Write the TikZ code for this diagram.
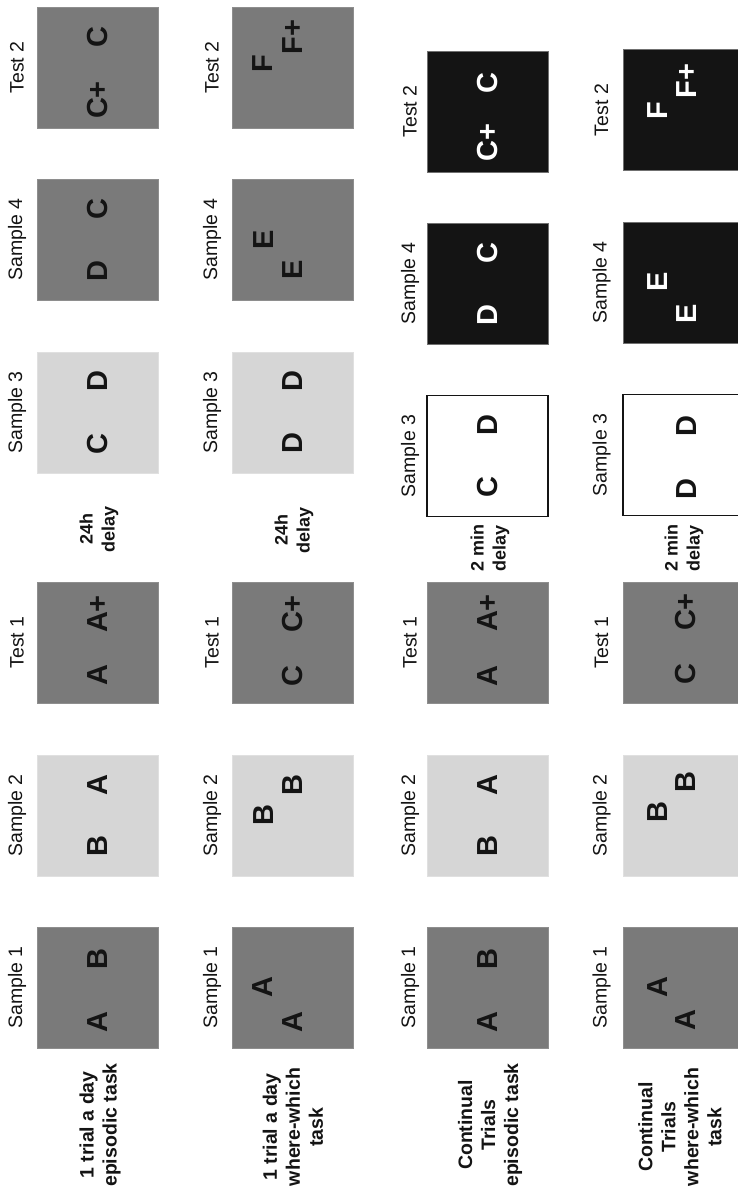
\documentclass[tikz,border=0pt]{standalone}
\usepackage{fontspec}
\setmainfont{Liberation Sans}
\definecolor{dg}{HTML}{7A7A7A}
\definecolor{dgedge}{HTML}{8E8E8E}
\definecolor{lg}{HTML}{D6D6D6}
\definecolor{lgedge}{HTML}{E0E0E0}
\definecolor{bk}{HTML}{141414}
\definecolor{bkedge}{HTML}{707070}
\definecolor{ink}{HTML}{141414}
\begin{document}
\begin{tikzpicture}[x=1pt,y=-1pt,
 panel/.style={minimum width=121pt,minimum height=121pt,inner sep=0pt,outer sep=0pt},
 dgbox/.style={panel,fill=dg,draw=dgedge,line width=0.8pt},
 lgbox/.style={panel,fill=lg,draw=lgedge,line width=0.8pt},
 bkbox/.style={panel,fill=bk,draw=bkedge,line width=1pt},
 wbox/.style={panel,fill=white,draw=ink,line width=1.6pt},
 obj/.style={rotate=90,inner sep=0pt,font=\fontsize{29}{29}\selectfont\bfseries,text=ink},
 wobj/.style={obj,text=white},
 steplabel/.style={rotate=90,inner sep=0pt,font=\fontsize{19.5}{23}\selectfont,text=ink},
 tasklabel/.style={rotate=90,inner sep=0pt,align=center,font=\fontsize{19.5}{23}\selectfont\bfseries,text=ink},
 delaylabel/.style={rotate=90,inner sep=0pt,font=\fontsize{18}{22}\selectfont\bfseries,text=ink},
]
\useasboundingbox (0,0) rectangle (738,1191);
\clip (0,0) rectangle (738,1191);

% ---------- Column 1: 1 trial a day episodic ----------
\node[dgbox] (b1t2) at (97.5,67.5) {};
\node[dgbox] (b1s4) at (97.5,239.5) {};
\node[lgbox] (b1s3) at (97.5,412.5) {};
\node[dgbox] (b1t1) at (97.5,642.5) {};
\node[lgbox] (b1s2) at (97.5,815.5) {};
\node[dgbox] (b1s1) at (97.5,987.5) {};
\node[steplabel] (t1t2) at (17,67.5) {Test 2};
\node[steplabel] (t1s4) at (17,239.5) {Sample 4};
\node[steplabel] (t1s3) at (17,412.5) {Sample 3};
\node[steplabel] (t1t1) at (17,642.5) {Test 1};
\node[steplabel] (t1s2) at (17,815.5) {Sample 2};
\node[steplabel] (t1s1) at (17,987.5) {Sample 1};
\node[obj] (o1s1a) at (97.5,1022) {A};
\node[obj] (o1s1b) at (97.5,959) {B};
\node[obj] (o1s2a) at (97.5,846) {B};
\node[obj] (o1s2b) at (97.5,785) {A};
\node[obj] (o1t1a) at (97.5,675) {A};
\node[obj] (o1t1b) at (97.5,614) {A+};
\node[obj] (o1s3a) at (97.5,444) {C};
\node[obj] (o1s3b) at (97.5,381) {D};
\node[obj] (o1s4a) at (97.5,271) {D};
\node[obj] (o1s4b) at (97.5,209) {C};
\node[obj] (o1t2a) at (97.5,100) {C+};
\node[obj] (o1t2b) at (97.5,37.5) {C};
\node[delaylabel,align=center] (d1) at (99,529) {24h\\delay};
\node[tasklabel] (task1) at (100,1125) {1 trial a day\\episodic task};

% ---------- Column 2: 1 trial a day where-which ----------
\node[dgbox] (b2t2) at (292.5,67.5) {};
\node[dgbox] (b2s4) at (292.5,239.5) {};
\node[lgbox] (b2s3) at (292.5,412.5) {};
\node[dgbox] (b2t1) at (292.5,642.5) {};
\node[lgbox] (b2s2) at (292.5,815.5) {};
\node[dgbox] (b2s1) at (292.5,987.5) {};
\node[steplabel] (t2t2) at (212,67.5) {Test 2};
\node[steplabel] (t2s4) at (212,239.5) {Sample 4};
\node[steplabel] (t2s3) at (212,412.5) {Sample 3};
\node[steplabel] (t2t1) at (212,642.5) {Test 1};
\node[steplabel] (t2s2) at (212,815.5) {Sample 2};
\node[steplabel] (t2s1) at (212,987.5) {Sample 1};
\node[obj] (o2s1a) at (263,987.5) {A};
\node[obj] (o2s1b) at (292.5,1022) {A};
\node[obj] (o2s2a) at (263.5,815) {B};
\node[obj] (o2s2b) at (293,785) {B};
\node[obj] (o2t1a) at (292.5,676) {C};
\node[obj] (o2t1b) at (292.5,614) {C+};
\node[obj] (o2s3a) at (292.5,443) {D};
\node[obj] (o2s3b) at (292.5,381) {D};
\node[obj] (o2s4a) at (263.5,240) {E};
\node[obj] (o2s4b) at (292.5,270) {E};
\node[obj] (o2t2a) at (263,64) {F};
\node[obj] (o2t2b) at (292.5,37) {F+};
\node[delaylabel,align=center] (d2) at (294,530) {24h\\delay};
\node[tasklabel] (task2) at (293,1127) {1 trial a day\\where-which\\task};

% ---------- Column 3: Continual trials episodic ----------
\node[bkbox] (b3t2) at (487.5,111.5) {};
\node[bkbox] (b3s4) at (487.5,283.5) {};
\node[wbox] (b3s3) at (487.5,456) {};
\node[dgbox] (b3t1) at (487.5,642.5) {};
\node[lgbox] (b3s2) at (487.5,815.5) {};
\node[dgbox] (b3s1) at (487.5,987.5) {};
\node[steplabel] (t3t2) at (410,111.5) {Test 2};
\node[steplabel] (t3s4) at (410,283.5) {Sample 4};
\node[steplabel] (t3s3) at (410,456) {Sample 3};
\node[steplabel] (t3t1) at (410,642.5) {Test 1};
\node[steplabel] (t3s2) at (410,815.5) {Sample 2};
\node[steplabel] (t3s1) at (410,987.5) {Sample 1};
\node[obj] (o3s1a) at (488,1022) {A};
\node[obj] (o3s1b) at (488,959) {B};
\node[obj] (o3s2a) at (488,846) {B};
\node[obj] (o3s2b) at (488,785) {A};
\node[obj] (o3t1a) at (488,676) {A};
\node[obj] (o3t1b) at (488,613) {A+};
\node[obj] (o3s3a) at (488,487.5) {C};
\node[obj] (o3s3b) at (488,425) {D};
\node[wobj] (o3s4a) at (488,315) {D};
\node[wobj] (o3s4b) at (488,253) {C};
\node[wobj] (o3t2a) at (488,142.5) {C+};
\node[wobj] (o3t2b) at (488,83) {C};
\node[delaylabel,align=left] (d3) at (490,548) {2 min\\delay};
\node[tasklabel] (task3) at (490,1125) {Continual\\Trials\\episodic task};

% ---------- Column 4: Continual trials where-which ----------
\node[bkbox] (b4t2) at (683.5,110) {};
\node[bkbox] (b4s4) at (683.5,282.5) {};
\node[wbox] (b4s3) at (683.5,455) {};
\node[dgbox] (b4t1) at (683.5,642.5) {};
\node[lgbox] (b4s2) at (683.5,815.5) {};
\node[dgbox] (b4s1) at (683.5,987.5) {};
\node[steplabel] (t4t2) at (601.5,110) {Test 2};
\node[steplabel] (t4s4) at (601.5,282.5) {Sample 4};
\node[steplabel] (t4s3) at (601.5,455) {Sample 3};
\node[steplabel] (t4t1) at (601.5,642.5) {Test 1};
\node[steplabel] (t4s2) at (601.5,815.5) {Sample 2};
\node[steplabel] (t4s1) at (601.5,987.5) {Sample 1};
\node[obj] (o4s1a) at (657.5,987) {A};
\node[obj] (o4s1b) at (686,1020) {A};
\node[obj] (o4s2a) at (657.5,812) {B};
\node[obj] (o4s2b) at (686,782) {B};
\node[obj] (o4t1a) at (686,674) {C};
\node[obj] (o4t1b) at (686,612) {C+};
\node[obj] (o4s3a) at (687,489) {D};
\node[obj] (o4s3b) at (687,426) {D};
\node[wobj] (o4s4a) at (657.5,281.5) {E};
\node[wobj] (o4s4b) at (687,313.5) {E};
\node[wobj] (o4t2a) at (658,111) {F};
\node[wobj] (o4t2b) at (687,81) {F+};
\node[delaylabel,align=left] (d4) at (684,548) {2 min\\delay};
\node[tasklabel] (task4) at (680,1127) {Continual\\Trials\\where-which\\task};
\end{tikzpicture}
\end{document}
